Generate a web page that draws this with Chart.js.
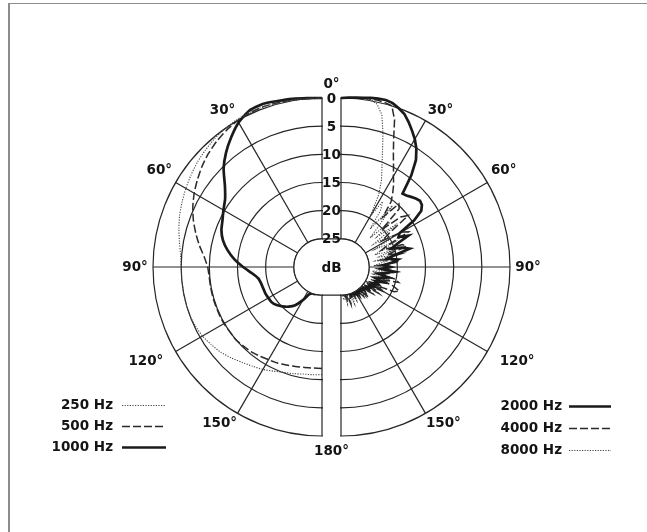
<!DOCTYPE html>
<html>
<head>
<meta charset="utf-8">
<script src="https://cdn.jsdelivr.net/npm/chart.js@4.4.1/dist/chart.umd.min.js"></script>
<style>
  html, body { margin: 0; padding: 0; background: #fff; }
  #wrap { position: relative; width: 647px; height: 532px; overflow: hidden; background: #fff; }
  #wrap canvas { position: absolute; left: 0; top: 0; }
  #frame { position: absolute; left: 8px; top: 3px; right: -4px; bottom: -4px;
           border-top: 1px solid #8c8c8c; border-left: 2px solid #8c8c8c; }
</style>
</head>
<body>
<div id="wrap">
  <div id="frame"></div>
  <canvas id="left" width="647" height="532"></canvas>
  <canvas id="right" width="647" height="532"></canvas>
</div>
<script>
// Polar response, dB below the on-axis level.
// Angles are degrees off the front (0) round to the rear (180).
const leftAngles = [0, 5, 10, 15, 20, 25, 30, 35, 40, 45, 50, 55, 60, 65, 70, 75, 80, 85, 90,
  95, 100, 105, 110, 115, 120, 125, 130, 135, 140, 145, 150, 155, 160, 165, 170, 175, 180];

const rightAngles = [0, 2.5, 5, 7.5, 10, 12.5, 15, 17.5, 20, 22.5, 25, 27.5, 30, 32.5, 35, 37.5,
  40, 42.5, 45, 47.5, 50, 52.5, 55, 57.5, 60, 62.5, 65, 67.5, 70, 72.5, 75, 77.5, 80, 82.5, 85,
  87.5, 90, 92.5, 95, 97.5, 100, 102.5, 105, 107.5, 110, 112.5, 115, 117.5, 120, 122.5, 125,
  127.5, 130, 132.5, 135, 137.5, 140, 142.5, 145, 147.5, 150, 152.5, 155, 157.5, 160, 162.5,
  165, 167.5, 170, 172.5, 175, 177.5, 180];

// left half
const hz250 = [0, 0, -0.1, -0.2, -0.3, -0.3, -0.2, 0, 0.3, 0.7, 1.1, 1.6, 2.1, 2.6, 3.1, 3.7,
  4.3, 4.8, 5, 5, 5, 5, 5, 5.2, 5.5, 6, 6.5, 7.2, 7.9, 8.5, 9, 9.6, 10.1, 10.4, 10.7, 10.8, 10.9];
const hz500 = [0, 0, -0.1, -0.2, -0.3, -0.2, 0, 0.4, 0.9, 1.5, 2.2, 3, 3.8, 4.7, 5.7, 6.8,
  7.9, 9, 9.7, 9.9, 9.9, 9.9, 9.9, 9.9, 9.9, 10, 10, 10.2, 10.4, 10.7, 11, 11.2, 11.5, 11.7, 11.9, 12, 12];
const hz1000 = [0, -0.1, -0.3, -0.5, -0.8, -0.6, 0.4, 1.9, 3.5, 5.3, 7.5, 9, 9.8, 10.5, 11, 11.8,
  13, 14.4, 16, 17.5, 18.5, 18.8, 18.9, 18.9, 19, 19.1, 19.5, 20.1, 20.8, 21.7, 23.2, 24.7, 25, 25, 25.5, 26, 26];

// right half
const hz2000 = [0, -0.1, -0.2, -0.3, -0.5, -0.6, -0.7, -0.5, 0, 0.6, 1.6, 2.7, 3.8, 5.1, 6.8, 9.5,
  13, 12.8, 12.4, 12, 11.7, 11.9, 12.6, 14.6, 18, 18.5, 16.8, 19.2, 20.5, 18.6, 17.4, 20.2, 21.6,
  19.8, 20.9, 22.4, 21.2, 22.8, 20.6, 21.9, 23.2, 21.4, 22.6, 23.7, 22.1, 23.4, 22.7, 23.9, 23.1,
  24.1, 23.6, 24.4, 23.8, 24.6, 24.2, 24.8, 24.4, 24.9, 24.5, 24.8, 24.4, 25, 24.7, 25.2, 24.8,
  25.4, 25.2, 25.6, 25.5, 25.8, 25.8, 26, 26];
const hz4000 = [0, 0, -0.1, -0.2, -0.3, -0.3, -0.2, 0, 2.2, 5.6, 8, 9.8, 11.4, 12.6, 14, 15.4,
  18.5, 14.8, 15.4, 20.2, 16.2, 15, 19.5, 21.4, 17.6, 16.5, 20.8, 22.2, 18.4, 17.8, 21.6, 19.1,
  22.8, 20.4, 19.6, 23.2, 20.7, 22.5, 19.9, 21.3, 23.4, 20.2, 19.4, 22.6, 20.1, 18.8, 19.6, 22.9,
  21.1, 23.5, 21.8, 24.1, 22.6, 23.8, 24.5, 22.8, 24.2, 23.4, 24.8, 23.7, 24.6, 25, 24.1, 25.2,
  23.9, 24.8, 23.2, 25, 23.8, 25.4, 24.7, 25.7, 26];
const hz8000 = [0, 0, -0.1, -0.2, -0.2, 0.4, 2, 5.2, 8.5, 11, 13, 15.5, 19.5, 16.2, 17.8, 21.5,
  15.8, 19.9, 22.7, 18.2, 21.6, 17.4, 22.9, 20.1, 18.7, 23.2, 19.5, 21.8, 23.6, 20.4, 23, 21.1,
  23.8, 21.9, 23.1, 24.2, 21.5, 23.7, 22.3, 24.4, 21.8, 24, 21, 23.1, 21.9, 24.3, 22.4, 23.8, 21.7,
  24.2, 23.1, 24.7, 23.5, 24.5, 23.9, 24.9, 23.2, 24.6, 24, 24.9, 23.6, 24.8, 23.4, 24.6, 23,
  24.7, 23.1, 24.5, 23.3, 24.9, 24.1, 25.4, 25.8];

const ringTicks = [0, 5, 10, 15, 20, 25];
const degLabels = ['30°', '60°', '90°', '120°', '150°'];

const FLOOR = 30;   // dB at the very centre
const HUB_DB = 25;  // the small "dB" circle
const STRIP = 19;   // gap between the two halves, px
const INK = '#141414';
const GRID = '#262626';
const FONT = 'bold 13.5px "DejaVu Sans", sans-serif';

// where the angle labels sit (bearing, distance from centre in px)
const degLabelAngle = [32.5, 59.4, 90, 118.3, 146.8];
const degLabelDist = [185, 189, 187, 200, 187];

// full-circle bearings for the radar, the plotted half fills one side only
const leftBearings = leftAngles.concat(leftAngles.slice(1, -1).map(a => a + 180));
const rightBearings = rightAngles.concat(rightAngles.slice(1, -1).map(a => a + 180));

function leftSide(values) {
  const n = leftBearings.length;
  const out = new Array(n).fill(null);
  values.forEach((v, i) => { out[(n - i) % n] = FLOOR - v; });
  return out;
}

function rightSide(values) {
  const out = new Array(rightBearings.length).fill(null);
  values.forEach((v, i) => { out[i] = FLOOR - v; });
  return out;
}

function drawLegend(chart, textRight, x0, x1, rows) {
  const ctx = chart.ctx;
  ctx.save();
  chart.data.datasets.forEach((ds, i) => {
    const y = rows[i];
    ctx.font = FONT;
    ctx.fillStyle = INK;
    ctx.textAlign = 'right';
    ctx.textBaseline = 'middle';
    ctx.fillText(ds.label, textRight, y);
    ctx.beginPath();
    ctx.setLineDash(ds.borderDash || []);
    ctx.lineWidth = ds.borderWidth;
    ctx.strokeStyle = ds.borderColor;
    ctx.moveTo(x0, y + 0.5);
    ctx.lineTo(x1, y + 0.5);
    ctx.stroke();
  });
  ctx.restore();
}

// clips a full radar down to one half and adds the labels
const halfPlugin = {
  id: 'half',
  beforeDraw(chart, args, opts) {
    const r = chart.scales.r;
    const ctx = chart.ctx;
    ctx.save();
    ctx.beginPath();
    if (opts.side === 'left') ctx.rect(0, 0, r.xCenter + 1, chart.height);
    else ctx.rect(r.xCenter - 1, 0, chart.width, chart.height);
    ctx.clip();
  },
  afterDatasetsDraw(chart) {
    const r = chart.scales.r;
    const ctx = chart.ctx;
    const hub = r.getDistanceFromCenterForValue(FLOOR - HUB_DB);
    ctx.beginPath();
    ctx.arc(r.xCenter, r.yCenter, hub, 0, Math.PI * 2);
    ctx.fillStyle = '#fff';
    ctx.fill();
    ctx.lineWidth = 1.2;
    ctx.strokeStyle = GRID;
    ctx.stroke();
    ctx.restore();
  },
  afterDraw(chart, args, opts) {
    const r = chart.scales.r;
    const ctx = chart.ctx;
    const step = 360 / r.getLabels().length;
    ctx.save();
    ctx.font = FONT;
    ctx.fillStyle = INK;
    ctx.textAlign = 'center';
    ctx.textBaseline = 'middle';
    degLabels.forEach((txt, i) => {
      const bearing = opts.side === 'left' ? 360 - degLabelAngle[i] : degLabelAngle[i];
      const p = r.getPointPosition(bearing / step, degLabelDist[i]);
      ctx.fillText(txt, p.x, p.y);
    });

    if (opts.side === 'right') {
      const sx = r.xCenter - STRIP / 2;
      const outer = r.getDistanceFromCenterForValue(FLOOR);
      const hub = r.getDistanceFromCenterForValue(FLOOR - HUB_DB);
      ctx.strokeStyle = GRID;
      ctx.lineWidth = 1.2;
      ctx.beginPath();
      ctx.moveTo(r.xCenter - STRIP, r.yCenter - hub);
      ctx.lineTo(r.xCenter, r.yCenter - hub);
      ctx.moveTo(r.xCenter - STRIP, r.yCenter + hub);
      ctx.lineTo(r.xCenter, r.yCenter + hub);
      ctx.stroke();
      ringTicks.forEach(db => {
        const y = r.yCenter - r.getDistanceFromCenterForValue(FLOOR - db);
        ctx.fillText(String(db), sx, y + 1);
      });
      ctx.fillText('dB', sx, r.yCenter + 1);
      ctx.fillText('0°', sx, r.yCenter - outer - 14);
      ctx.fillText('180°', sx, r.yCenter + outer + 15);
      drawLegend(chart, 562, 569, 611, [406, 428, 450]);
    } else {
      drawLegend(chart, 113, 122, 166, [405, 426, 447]);
    }
    ctx.restore();
  }
};

function radarOptions(side, bearings, padLeft) {
  return {
    responsive: false,
    animation: false,
    events: [],
    layout: { padding: { left: padLeft, top: 98, right: 647 - padLeft - 338, bottom: 532 - 98 - 338 } },
    elements: { point: { radius: 0, hitRadius: 0 } },
    plugins: {
      legend: { display: false },
      tooltip: { enabled: false },
      half: { side: side }
    },
    scales: {
      r: {
        min: 0,
        max: FLOOR,
        ticks: { stepSize: 5, display: false },
        pointLabels: { display: false },
        grid: { circular: true, color: GRID, lineWidth: 1.2 },
        angleLines: {
          color: GRID,
          lineWidth: ctx => (bearings[ctx.index] % 30 === 0 ? 1.2 : 0)
        }
      }
    }
  };
}

new Chart(document.getElementById('left'), {
  type: 'radar',
  data: {
    labels: leftBearings,
    datasets: [
      { label: '250 Hz', data: leftSide(hz250), borderColor: '#444', borderWidth: 1.1,
        borderDash: [1.2, 1.4], fill: false, tension: 0.2, clip: false },
      { label: '500 Hz', data: leftSide(hz500), borderColor: '#2a2a2a', borderWidth: 1.5,
        borderDash: [8, 3], fill: false, tension: 0.2, clip: false },
      { label: '1000 Hz', data: leftSide(hz1000), borderColor: '#1a1a1a', borderWidth: 2.7,
        fill: false, tension: 0.2, clip: false }
    ]
  },
  options: radarOptions('left', leftBearings, 153),
  plugins: [halfPlugin]
});

new Chart(document.getElementById('right'), {
  type: 'radar',
  data: {
    labels: rightBearings,
    datasets: [
      { label: '2000 Hz', data: rightSide(hz2000), borderColor: '#1a1a1a', borderWidth: 2.7,
        fill: false, tension: 0, clip: false },
      { label: '4000 Hz', data: rightSide(hz4000), borderColor: '#2a2a2a', borderWidth: 1.5,
        borderDash: [8, 3], fill: false, tension: 0, clip: false },
      { label: '8000 Hz', data: rightSide(hz8000), borderColor: '#444', borderWidth: 1.1,
        borderDash: [1.2, 1.4], fill: false, tension: 0, clip: false }
    ]
  },
  options: radarOptions('right', rightBearings, 172),
  plugins: [halfPlugin]
});
</script>
</body>
</html>
